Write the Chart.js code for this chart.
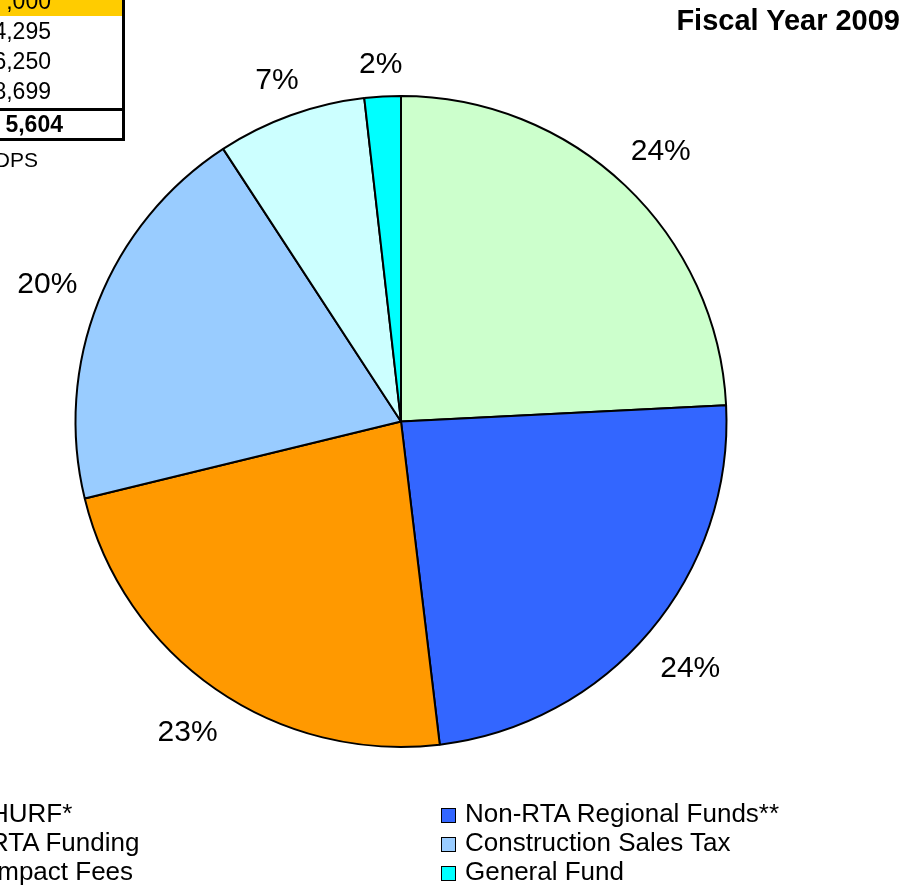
<!DOCTYPE html>
<html>
<head>
<meta charset="utf-8">
<script src="https://cdn.jsdelivr.net/npm/chart.js@4"></script>
<style>
  html, body { margin:0; padding:0; background:#fff; width:922px; height:885px; overflow:hidden; position:relative;
    font-family:"Liberation Sans", Arial, sans-serif; color:#000; }
  #c { position:absolute; left:0; top:0; }
  #title { position:absolute; right:22px; top:6px; font-size:29px; font-weight:bold; line-height:29px; white-space:nowrap; }
  #tbl { position:absolute; left:-200px; top:-14px; width:322px; border-right:3px solid #000; border-bottom:3px solid #000; }
  #tbl .row { height:30px; line-height:30px; font-size:23px; text-align:right; padding-right:71px; box-sizing:border-box; }
  #tbl .row.hdr { background:#FFCC00; }
  #tbl .row.last { height:32px; }
  #tbl .row.tot { border-top:3px solid #000; height:30px; line-height:27px; font-weight:bold; padding-right:59px; }
  #src { position:absolute; right:884px; top:148px; font-size:21px; line-height:24px; white-space:nowrap; }
  #legend { position:absolute; left:-10px; top:799px; }
  #legend .item { position:absolute; height:29px; line-height:29px; font-size:26px; white-space:nowrap; }
  #legend .box { position:absolute; left:-24px; top:9px; width:13px; height:13px; border:1.5px solid #000; }
</style>
</head>
<body>
<canvas id="c" width="922" height="885"></canvas>
<div id="title"></div>
<div id="tbl"></div>
<div id="src"></div>
<div id="legend"></div>
<script>
// ---- data ----
const categories = ['HURF*', 'Non-RTA Regional Funds**', 'RTA Funding', 'Construction Sales Tax', 'Impact Fees', 'General Fund'];
const shares = [24.2, 23.9, 23.1, 19.6, 7.4, 1.8];
const colors = ['#CCFFCC', '#3366FF', '#FF9900', '#99CCFF', '#CCFFFF', '#00FFFF'];
const chartTitle = 'Fiscal Year 2009';
const tableValues = [',000', '4,295', '6,250', '8,699'];
const tableTotal = '5,604';
const sourceNote = 'DPS';

// ---- html text parts ----
document.getElementById('title').textContent = chartTitle;
const tbl = document.getElementById('tbl');
tableValues.forEach((v, i) => {
  const d = document.createElement('div');
  d.className = 'row' + (i === 0 ? ' hdr' : '') + (i === tableValues.length - 1 ? ' last' : '');
  d.textContent = v;
  tbl.appendChild(d);
});
const tot = document.createElement('div');
tot.className = 'row tot';
tot.textContent = tableTotal;
tbl.appendChild(tot);
document.getElementById('src').textContent = sourceNote;

const legend = document.getElementById('legend');
categories.forEach((name, i) => {
  const it = document.createElement('div');
  it.className = 'item';
  it.style.left = (i % 2) * 475 + 'px';
  it.style.top = Math.floor(i / 2) * 29 + 'px';
  const b = document.createElement('span');
  b.className = 'box';
  b.style.background = colors[i];
  it.appendChild(b);
  it.appendChild(document.createTextNode(name));
  legend.appendChild(it);
});

// ---- percentage labels plugin ----
const pctLabels = {
  id: 'pctLabels',
  afterDatasetsDraw(chart) {
    const ctx = chart.ctx;
    const meta = chart.getDatasetMeta(0);
    const data = chart.data.datasets[0].data;
    const total = data.reduce((a, b) => a + b, 0);
    const fs = 30;
    ctx.save();
    ctx.font = fs + 'px "Liberation Sans", Arial, sans-serif';
    ctx.fillStyle = '#000';
    ctx.textAlign = 'center';
    ctx.textBaseline = 'alphabetic';
    meta.data.forEach((arc, i) => {
      const p = arc.getProps(['x', 'y', 'startAngle', 'endAngle', 'outerRadius'], true);
      const mid = (p.startAngle + p.endAngle) / 2;
      const txt = Math.round(data[i] / total * 100) + '%';
      const w = ctx.measureText(txt).width;
      const h = fs * 0.716;
      const c = Math.cos(mid), s = Math.sin(mid);
      const ext = Math.abs(c) * w / 2 + Math.abs(s) * h / 2;
      const r = p.outerRadius + 23 + ext;
      ctx.fillText(txt, p.x + c * r, p.y + s * r + h / 2 + 1);
    });
    ctx.restore();
  }
};

new Chart(document.getElementById('c'), {
  type: 'pie',
  data: {
    labels: categories,
    datasets: [{
      data: shares,
      backgroundColor: colors,
      borderColor: '#000',
      borderWidth: 2,
      radius: 325.5
    }]
  },
  options: {
    responsive: false,
    animation: false,
    events: [],
    layout: { padding: { left: 0, right: 120, top: 0, bottom: 42 } },
    plugins: { legend: { display: false }, title: { display: false }, tooltip: { enabled: false } }
  },
  plugins: [pctLabels]
});
</script>
</body>
</html>
